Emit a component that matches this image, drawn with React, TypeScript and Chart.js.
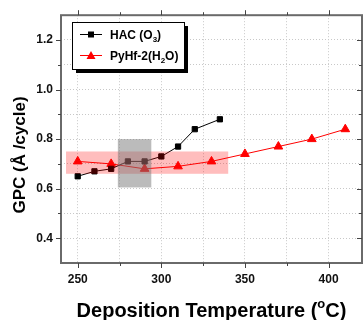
import React, { useEffect, useRef } from "react";
import { Chart, registerables } from "chart.js";
Chart.register(...registerables);

const hacTemps = [250, 260, 270, 280, 290, 300, 310, 320, 335];
const hacGpc = [0.65, 0.67, 0.68, 0.71, 0.71, 0.73, 0.77, 0.84, 0.88];
const pyTemps = [250, 270, 290, 310, 330, 350, 370, 390, 410];
const pyGpc = [0.71, 0.7, 0.68, 0.69, 0.71, 0.74, 0.77, 0.8, 0.84];
const xTickLabels = [250, 300, 350, 400];
const xGridValues = [250, 275, 300, 325, 350, 375, 400];
const yTickLabels = [0.4, 0.6, 0.8, 1.0, 1.2];
const yGridValues = [0.4, 0.5, 0.6, 0.7, 0.8, 0.9, 1.0, 1.1, 1.2];
const redBandX = [243, 340];
const redBandY = [0.66, 0.75];
const grayBoxX = [274, 294];
const grayBoxY = [0.605, 0.8];
const xTitle = "Deposition Temperature (";
const yTitle = "GPC (Å /cycle)";

type Part = { t: string; sub?: boolean; sup?: boolean };

function drawRich(ctx: CanvasRenderingContext2D, parts: Part[], x: number, y: number, size: number, align: "left" | "center") {
  const fam = "'Liberation Sans', Arial, sans-serif";
  const small = Math.round(size * 0.65);
  let total = 0;
  const widths = parts.map((p) => {
    ctx.font = `bold ${p.sub || p.sup ? small : size}px ${fam}`;
    const w = ctx.measureText(p.t).width;
    total += w;
    return w;
  });
  let cx = align === "center" ? x - total / 2 : x;
  ctx.textAlign = "left";
  ctx.textBaseline = "alphabetic";
  parts.forEach((p, i) => {
    ctx.font = `bold ${p.sub || p.sup ? small : size}px ${fam}`;
    const dy = p.sub ? size * 0.3 : p.sup ? -size * 0.45 : 0;
    ctx.fillText(p.t, cx, y + dy);
    cx += widths[i];
  });
}

const overlayPlugin = {
  id: "overlay",
  afterDatasetsDraw(chart: any) {
    const ctx = chart.ctx as CanvasRenderingContext2D;
    const xs = chart.scales.x;
    const ys = chart.scales.y;
    const a = chart.chartArea;
    ctx.save();
    // red band
    ctx.fillStyle = "rgba(255,0,0,0.26)";
    const rx0 = xs.getPixelForValue(redBandX[0]);
    const rx1 = xs.getPixelForValue(redBandX[1]);
    const ry0 = ys.getPixelForValue(redBandY[1]);
    const ry1 = ys.getPixelForValue(redBandY[0]);
    ctx.fillRect(rx0, ry0, rx1 - rx0, ry1 - ry0);
    // gray box
    ctx.fillStyle = "rgba(120,120,120,0.5)";
    const gx0 = xs.getPixelForValue(grayBoxX[0]);
    const gx1 = xs.getPixelForValue(grayBoxX[1]);
    const gy0 = ys.getPixelForValue(grayBoxY[1]);
    const gy1 = ys.getPixelForValue(grayBoxY[0]);
    ctx.fillRect(gx0, gy0, gx1 - gx0, gy1 - gy0);

    // frame
    ctx.strokeStyle = "#6a6a6a";
    ctx.lineWidth = 2;
    ctx.strokeRect(a.left, a.top, a.right - a.left, a.bottom - a.top);

    // tick marks
    ctx.lineWidth = 1;
    ctx.strokeStyle = "#444";
    xGridValues.forEach((v) => {
      const px = Math.round(xs.getPixelForValue(v)) + 0.5;
      const major = xTickLabels.includes(v);
      const len = major ? 5 : 3;
      ctx.beginPath();
      ctx.moveTo(px, a.bottom);
      ctx.lineTo(px, a.bottom + len);
      ctx.moveTo(px, a.top);
      ctx.lineTo(px, a.top - len);
      ctx.stroke();
    });
    yGridValues.forEach((v) => {
      const py = Math.round(ys.getPixelForValue(v)) + 0.5;
      const major = yTickLabels.includes(v);
      const len = major ? 5 : 3;
      ctx.beginPath();
      ctx.moveTo(a.left, py);
      ctx.lineTo(a.left - len, py);
      ctx.moveTo(a.right, py);
      ctx.lineTo(a.right - len, py);
      ctx.stroke();
    });

    // legend
    const lx = 72, ly = 22, lw = 112, lh = 47;
    ctx.fillStyle = "#000";
    ctx.fillRect(lx + 4, ly + 4, lw, lh);
    ctx.fillStyle = "#fff";
    ctx.fillRect(lx, ly, lw, lh);
    ctx.strokeStyle = "#000";
    ctx.lineWidth = 1;
    ctx.strokeRect(lx + 0.5, ly + 0.5, lw, lh);
    const rows = [
      { y: 34, color: "#000", shape: "rect", parts: [{ t: "HAC (O" }, { t: "3", sub: true }, { t: ")" }] },
      { y: 55, color: "#ff0000", shape: "tri", parts: [{ t: "PyHf-2(H" }, { t: "2", sub: true }, { t: "O)" }] },
    ];
    rows.forEach((r) => {
      ctx.strokeStyle = r.color;
      ctx.fillStyle = r.color;
      ctx.beginPath();
      ctx.moveTo(80, r.y + 0.5);
      ctx.lineTo(102, r.y + 0.5);
      ctx.stroke();
      if (r.shape === "rect") {
        ctx.fillRect(88, r.y - 2.5, 6, 6);
      } else {
        ctx.beginPath();
        ctx.moveTo(91, r.y - 4);
        ctx.lineTo(95.5, r.y + 4);
        ctx.lineTo(86.5, r.y + 4);
        ctx.closePath();
        ctx.fill();
      }
      ctx.fillStyle = "#000";
      drawRich(ctx, r.parts as Part[], 110, r.y + 4.5, 12, "left");
    });

    // axis titles
    ctx.fillStyle = "#000";
    drawRich(ctx, [{ t: xTitle }, { t: "o", sup: true }, { t: "C)" }], (a.left + a.right) / 2, 317, 20, "center");
    ctx.save();
    ctx.translate(25, 155);
    ctx.rotate(-Math.PI / 2);
    drawRich(ctx, [{ t: yTitle }], 0, 0, 17, "center");
    ctx.restore();
    ctx.restore();
  },
};

export default function App() {
  const ref = useRef<HTMLCanvasElement>(null);
  useEffect(() => {
    if (!ref.current) return;
    const tickFont = { family: "'Liberation Sans', Arial, sans-serif", weight: "bold" as const, size: 12 };
    const chart = new Chart(ref.current, {
      type: "scatter",
      data: {
        datasets: [
          {
            label: "HAC (O3)",
            data: hacTemps.map((x, i) => ({ x, y: hacGpc[i] })),
            showLine: true,
            borderColor: "#000",
            backgroundColor: "#000",
            borderWidth: 1,
            pointStyle: "rect",
            pointRadius: 3.7,
            pointBorderWidth: 1,
          },
          {
            label: "PyHf-2(H2O)",
            data: pyTemps.map((x, i) => ({ x, y: pyGpc[i] })),
            showLine: true,
            borderColor: "#ff0000",
            backgroundColor: "#ff0000",
            borderWidth: 1,
            pointStyle: "triangle",
            pointRadius: 5,
            pointBorderWidth: 1,
          },
        ],
      },
      options: {
        animation: false,
        responsive: false,
        devicePixelRatio: 1,
        layout: { padding: { left: 0, top: 15, right: 2, bottom: 0 } },
        plugins: { legend: { display: false }, tooltip: { enabled: false } },
        scales: {
          x: {
            type: "linear",
            min: 240,
            max: 420,
            afterBuildTicks: (s: any) => {
              s.ticks = xGridValues.map((v) => ({ value: v }));
            },
            afterFit: (s: any) => {
              s.height = 57;
            },
            ticks: {
              padding: 9,
              font: tickFont,
              color: "#111",
              maxRotation: 0,
              autoSkip: false,
              callback: (v: any) => (xTickLabels.includes(Number(v)) ? String(v) : ""),
            },
            grid: { color: "#c8c8c8", lineWidth: 1, drawTicks: false },
            border: { display: false, dash: [1, 2] },
          },
          y: {
            type: "linear",
            min: 0.3,
            max: 1.3,
            afterBuildTicks: (s: any) => {
              s.ticks = yGridValues.map((v) => ({ value: v }));
            },
            afterFit: (s: any) => {
              s.width = 61;
            },
            ticks: {
              padding: 8,
              font: tickFont,
              color: "#111",
              autoSkip: false,
              callback: (v: any) => {
                const r = Math.round(Number(v) * 10) / 10;
                return yTickLabels.includes(r) ? r.toFixed(1) : "";
              },
            },
            grid: { color: "#c8c8c8", lineWidth: 1, drawTicks: false },
            border: { display: false, dash: [1, 2] },
          },
        },
      },
      plugins: [overlayPlugin],
    });
    return () => chart.destroy();
  }, []);
  return (
    <div style={{ position: "fixed", left: 0, top: 0, width: 364, height: 320, overflow: "hidden", background: "#fff" }}>
      <canvas ref={ref} width={368} height={320} style={{ display: "block" }} />
    </div>
  );
}
